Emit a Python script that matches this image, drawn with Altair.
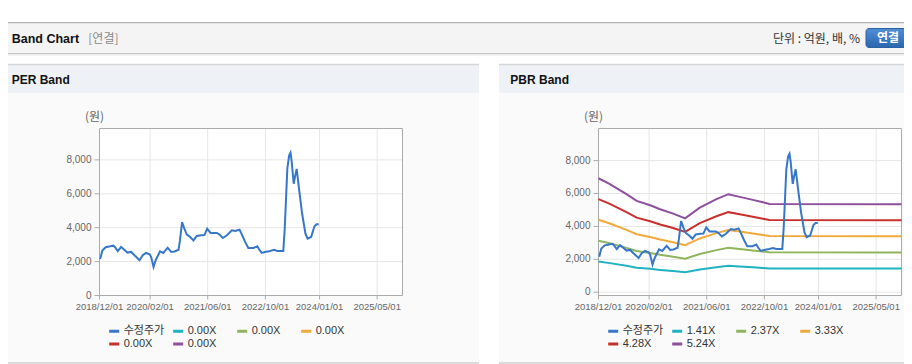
import altair as alt
import pandas as pd

# ------------------------------------------------------------------ data
price_dates = ["2018-12-07", "2018-12-25", "2019-01-22", "2019-03-01", "2019-03-28", "2019-04-10",
               "2019-05-04", "2019-06-01", "2019-06-28", "2019-07-25", "2019-08-25", "2019-09-22",
               "2019-11-04", "2019-12-01", "2019-12-28", "2020-01-28", "2020-02-10", "2020-03-01",
               "2020-03-19", "2020-04-25", "2020-05-22", "2020-06-28", "2020-07-28", "2020-08-25",
               "2020-09-28", "2020-10-10", "2020-10-28", "2020-11-16", "2020-12-07", "2021-01-04",
               "2021-02-01", "2021-03-01", "2021-04-07", "2021-05-04", "2021-05-28", "2021-06-25",
               "2021-08-16", "2021-09-07", "2021-10-07", "2021-11-10", "2021-12-22", "2022-01-19",
               "2022-02-25", "2022-03-13", "2022-04-13", "2022-05-10", "2022-06-22", "2022-07-25",
               "2022-08-10", "2022-09-01", "2022-09-28", "2022-11-10", "2022-12-13", "2023-01-10",
               "2023-03-01", "2023-03-13", "2023-04-04", "2023-04-19", "2023-05-01", "2023-05-10",
               "2023-05-28", "2023-06-07", "2023-06-22", "2023-07-10", "2023-08-07", "2023-09-04",
               "2023-09-22", "2023-10-22", "2023-11-19", "2023-12-07", "2023-12-25"]
price_values = [2150, 2650, 2850, 2900, 2940, 2860, 2620, 2860, 2700, 2530,
                2570, 2370, 2080, 2370, 2510, 2430, 2270, 1680, 2080, 2600,
                2510, 2820, 2570, 2600, 2700, 3250, 4330, 3940, 3590, 3450,
                3250, 3510, 3550, 3560, 3940, 3690, 3690, 3610, 3390, 3550,
                3840, 3800, 3880, 3650, 3160, 2800, 2800, 2900, 2700, 2510,
                2570, 2630, 2690, 2630, 2630, 3940, 7470, 8250, 8420, 7960,
                6590, 6980, 7470, 6390, 4820, 3650, 3350, 3450, 4080, 4200,
                4200]

band_dates = ["2018-12-01", "2019-03-07", "2019-07-25", "2019-10-19", "2020-02-10", "2020-05-04",
              "2020-08-22", "2020-12-01", "2021-04-04", "2021-08-22", "2021-12-01", "2022-03-07",
              "2022-06-25", "2022-09-19", "2022-11-13", "2025-12-01"]
band_141 = [1864, 1768, 1603, 1493, 1421, 1356, 1285, 1208, 1383, 1521, 1603, 1559, 1510, 1471, 1444, 1440]
band_237 = [3133, 2972, 2695, 2510, 2389, 2280, 2159, 2031, 2325, 2557, 2695, 2621, 2538, 2472, 2427, 2420]
band_333 = [4402, 4176, 3786, 3526, 3357, 3203, 3034, 2854, 3267, 3593, 3786, 3683, 3566, 3473, 3410, 3400]
band_428 = [5658, 5367, 4866, 4533, 4314, 4117, 3899, 3668, 4199, 4618, 4866, 4734, 4584, 4464, 4383, 4370]
band_524 = [6927, 6571, 5958, 5549, 5282, 5041, 4774, 4491, 5140, 5654, 5958, 5795, 5612, 5465, 5366, 5350]

x_tick_dates = ["2018-12-01", "2020-02-01", "2021-06-01", "2022-10-01", "2024-01-01", "2025-05-01"]
x_tick_labels = ["2018/12/01", "2020/02/01", "2021/06/01", "2022/10/01", "2024/01/01", "2025/05/01"]
y_tick_values = [0, 2000, 4000, 6000, 8000]
y_tick_labels = ["0", "2,000", "4,000", "6,000", "8,000"]

price_name = "수정주가"
per_keys = ["수정주가", "per1", "per2", "per3", "per4", "per5"]
per_label = "0.00X"
pbr_keys = ["수정주가", "1.41X", "2.37X", "3.33X", "4.28X", "5.24X"]
series_colors = ["#3677c9", "#1fb2c2", "#8fb45c", "#f0aa3c", "#c9302c", "#8e4f9d"]

KR = "Noto Sans CJK KR"
LAT = "Liberation Sans"
LEG_FONT = "Liberation Sans, Noto Sans CJK KR"

price_df = pd.DataFrame({"date": price_dates, "value": price_values, "series": price_name})
band_df = pd.concat([
    pd.DataFrame({"date": band_dates, "value": vals, "series": key})
    for key, vals in zip(pbr_keys[1:], [band_141, band_237, band_333, band_428, band_524])
], ignore_index=True)
yticks_df = pd.DataFrame({"v": y_tick_values, "label": y_tick_labels})
xticks_df = pd.DataFrame({"d": x_tick_dates, "label": x_tick_labels})

W, H = 896, 356
one = alt.Data(values=[{}])


def box(x, x2, y, y2, **kw):
    return alt.Chart(one).mark_rect(**kw).encode(
        x=alt.value(x), x2=alt.value(x2), y=alt.value(y), y2=alt.value(y2))


def hline(y, x, x2, **kw):
    return alt.Chart(one).mark_rule(**kw).encode(
        y=alt.value(y), x=alt.value(x), x2=alt.value(x2))


def label(text, x, y, **kw):
    return alt.Chart(one).mark_text(text=text, baseline="middle", **kw).encode(
        x=alt.value(x), y=alt.value(y))


# ------------------------------------------------------------------ page decorations
deco = [
    box(0, W, 15, 45, fill="#f4f4f4"),
    hline(14.6, 0, W, stroke="#b2b2b2", strokeWidth=1.4),
    hline(45.6, 0, W, stroke="#c6c6c6", strokeWidth=1.4),
    hline(47.0, 0, W, stroke="#e8e8e8", strokeWidth=1),
    label("Band Chart", 3.7, 30.6, align="left", font=LAT, fontSize=12.5, fontWeight="bold", color="#111111"),
    label("[연결]", 80.3, 30.6, align="left", font=KR, fontSize=12, color="#8a8a8a"),
    label("단위 : 억원, 배, %", 852, 30.6, align="right", font=KR, fontSize=12, color="#333333"),
    box(858, 910, 20.5, 39.5, cornerRadius=3, stroke="#2d619f", strokeWidth=1,
        fill=alt.LinearGradient(gradient="linear", x1=0, x2=0, y1=0, y2=1,
                                stops=[alt.GradientStop(color="#4f8fd6", offset=0),
                                       alt.GradientStop(color="#2b66b0", offset=1)])),
    label("연결", 880, 30.2, align="center", font=KR, fontSize=12, fontWeight="bold", color="#ffffff"),
    # panel bodies
    box(0, 471, 85, 354.5, fill="#fafafa"),
    box(491, W, 85, 354.5, fill="#fafafa"),
    hline(355.0, 0, 471, stroke="#cfcfcf", strokeWidth=1.5),
    hline(355.0, 491, W, stroke="#cfcfcf", strokeWidth=1.5),
    # panel headers
    box(0, 471, 56, 85, fill="#eef2f7"),
    box(491, W, 56, 85, fill="#eef2f7"),
    hline(56.6, 0, 471, stroke="#d6d6d6", strokeWidth=1.5),
    hline(56.6, 491, W, stroke="#d6d6d6", strokeWidth=1.5),
    label("PER Band", 3.7, 72.2, align="left", font=LAT, fontSize=12, fontWeight="bold", color="#111111"),
    label("PBR Band", 502.3, 72.2, align="left", font=LAT, fontSize=12, fontWeight="bold", color="#111111"),
]


# ------------------------------------------------------------------ panels
def panel(x0, x1, yt, yb, ydom, keys, legend_x, legend_y, line_layers_fn, label_expr=None):
    xs = alt.Scale(domain=[alt.DateTime(year=2018, month=12, date=1, utc=True),
                           alt.DateTime(year=2025, month=12, date=1, utc=True)],
                   range=[x0, x1])
    ys = alt.Scale(domain=ydom, range=[yb, yt], nice=False, zero=False)

    def X(f):
        return alt.X(f, type="temporal", scale=xs, axis=None)

    def Y(f):
        return alt.Y(f, type="quantitative", scale=ys, axis=None)

    leg_kw = dict(title=None, orient="none", legendX=legend_x, legendY=legend_y, columns=4,
                  direction="horizontal", gridAlign="all", symbolType="stroke", symbolSize=100,
                  symbolStrokeWidth=3, labelFont=LEG_FONT, labelFontSize=11, labelColor="#333333",
                  labelOffset=3, columnPadding=2, rowPadding=0, padding=0)
    if label_expr:
        leg_kw["labelExpr"] = label_expr
    color = alt.Color("series:N", scale=alt.Scale(domain=keys, range=series_colors),
                      legend=alt.Legend(**leg_kw))

    layers = [
        box(x0, x1, yt, yb, fill="#ffffff"),
        alt.Chart(yticks_df).mark_rule(stroke="#e6e6e6", strokeWidth=1).encode(
            y=Y("v"), x=alt.value(x0), x2=alt.value(x1)),
        alt.Chart(xticks_df).mark_rule(stroke="#e6e6e6", strokeWidth=1).encode(
            x=X("d"), y=alt.value(yt), y2=alt.value(yb)),
        box(x0, x1, yt, yb, fill="#ffffff", fillOpacity=0, stroke="#ababab", strokeWidth=1),
        alt.Chart(yticks_df).mark_rule(stroke="#ababab", strokeWidth=1).encode(
            y=Y("v"), x=alt.value(x0 - 5), x2=alt.value(x0)),
        alt.Chart(xticks_df).mark_rule(stroke="#ababab", strokeWidth=1).encode(
            x=X("d"), y=alt.value(yb), y2=alt.value(yb + 4)),
        alt.Chart(yticks_df).mark_text(align="right", baseline="middle", font=LAT, fontSize=10,
                                       color="#666666").encode(
            y=Y("v"), x=alt.value(x0 - 8), text="label:N"),
        alt.Chart(xticks_df).mark_text(align="center", baseline="middle", font=LAT, fontSize=9.5,
                                       color="#666666").encode(
            x=X("d"), y=alt.value(yb + 11.2), text="label:N"),
        label("(원)", x0 - 5, 109.3, align="center", font=KR, fontSize=12, color="#666666"),
    ]
    layers += line_layers_fn(X, Y, color)
    return alt.layer(*layers)


def per_lines(X, Y, color):
    return [alt.Chart(price_df).mark_line(strokeWidth=2).encode(
        x=X("date"), y=Y("value"), color=color)]


def pbr_lines(X, Y, color):
    return [
        alt.Chart(band_df).mark_line(strokeWidth=2).encode(
            x=X("date"), y=Y("value"), color=color),
        alt.Chart(price_df).mark_line(strokeWidth=2).encode(
            x=X("date"), y=Y("value"), color=color),
    ]


left = panel(91.5, 394.5, 120.5, 287.5, [0, 9850], per_keys, 99.7, 316.5, per_lines,
             label_expr="datum.label == '수정주가' ? '수정주가' : '%s'" % per_label)
right = panel(590.5, 893.5, 120.5, 287.5, [-200, 9950], pbr_keys, 598.7, 316.5, pbr_lines)

chart = alt.layer(*deco, left, right).resolve_scale(
    x="independent", y="independent", color="independent"
).properties(
    width=W, height=H, padding=0, autosize=alt.AutoSizeParams(type="none")
).configure_view(stroke="transparent")

chart.save("out.html", embed_options={"renderer": "svg", "actions": False})
